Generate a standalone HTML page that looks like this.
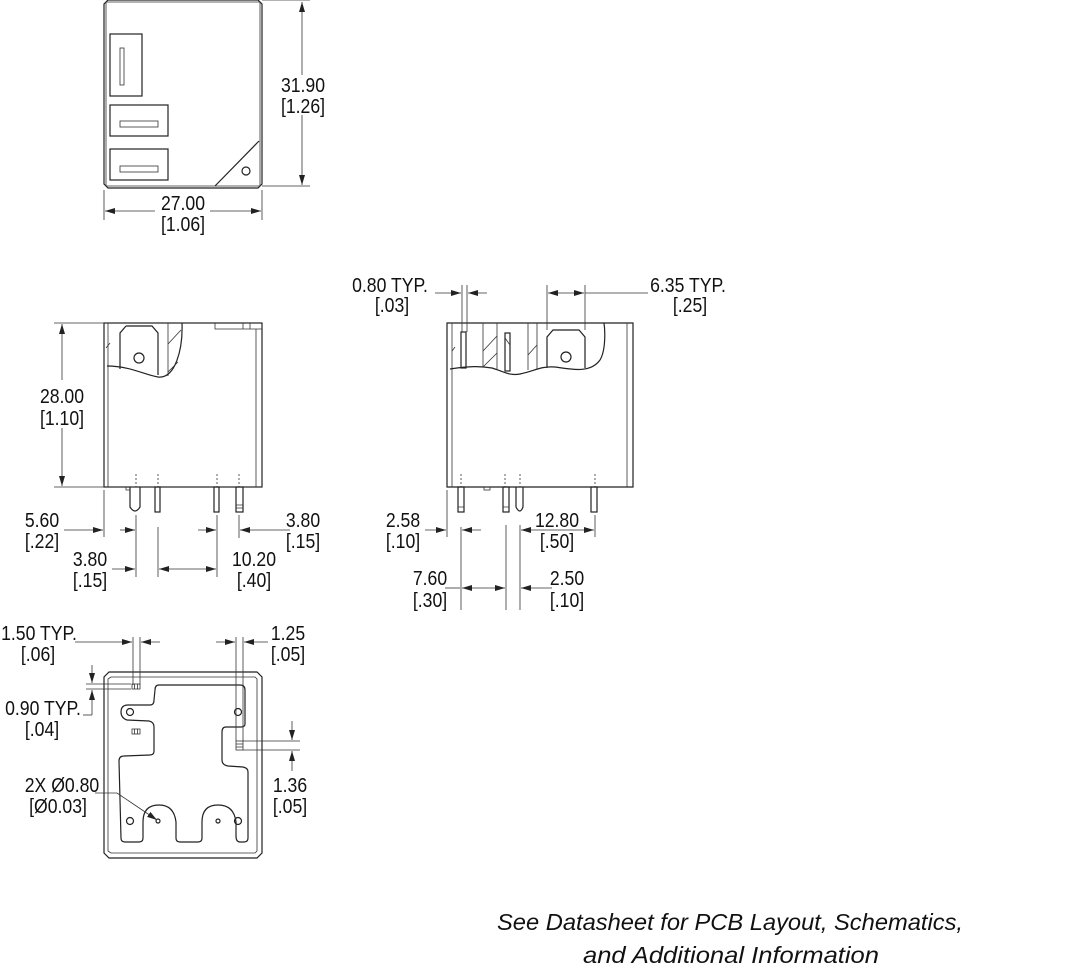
<!DOCTYPE html>
<html><head><meta charset="utf-8"><style>
html,body{margin:0;padding:0;background:#fff;}
svg{display:block;}
text{font-family:"Liberation Sans",sans-serif;font-size:20.5px;fill:#111;text-anchor:middle;}
.l{fill:none;stroke:#222;stroke-width:1.2;}
.t{fill:none;stroke:#333;stroke-width:0.8;}
.d{fill:none;stroke:#333;stroke-width:0.8;stroke-dasharray:2 2;}
</style></head><body>
<svg id="s" width="1080" height="971" viewBox="0 0 1080 971" xmlns="http://www.w3.org/2000/svg">
<defs>
<marker id="a" viewBox="0 0 10 6" refX="10" refY="3" markerWidth="10" markerHeight="6" orient="auto" markerUnits="userSpaceOnUse"><path d="M0,0 L10,3 L0,6 z" fill="#222"/></marker>
</defs>

<!-- TOP VIEW -->
<path class="l" d="M108,0 L258,0 L262,4 L262,184 L258,188 L108,188 L104,184 L104,4 Z"/>
<path class="t" d="M106,2 L260,2 L260,186 L106,186 Z"/>
<rect class="l" x="110" y="34" width="32" height="62"/>
<rect class="t" x="120" y="48" width="4" height="37"/>
<rect class="l" x="110" y="105" width="58" height="31"/>
<rect class="t" x="120" y="121" width="38" height="6"/>
<rect class="l" x="110" y="149" width="58" height="31"/>
<rect class="t" x="120" y="166" width="38" height="6"/>
<line class="l" x1="215" y1="186" x2="259" y2="141"/>
<circle class="l" cx="246" cy="171" r="4"/>
<line class="t" x1="262" y1="0" x2="310" y2="0"/>
<line class="t" x1="262" y1="186" x2="310" y2="186"/>
<line class="t" x1="302" y1="75" x2="302" y2="2" marker-end="url(#a)"/>
<line class="t" x1="302" y1="115" x2="302" y2="185" marker-end="url(#a)"/>
<text x="303" y="92">31.90</text><text x="303" y="113">[1.26]</text>
<line class="t" x1="104" y1="190" x2="104" y2="220"/>
<line class="t" x1="262" y1="190" x2="262" y2="220"/>
<line class="t" x1="155" y1="211" x2="105" y2="211" marker-end="url(#a)"/>
<line class="t" x1="210" y1="211" x2="261" y2="211" marker-end="url(#a)"/>
<text x="183" y="210">27.00</text><text x="183" y="231">[1.06]</text>

<!-- LEFT SIDE VIEW -->
<rect class="l" x="104" y="323" width="158" height="164"/>
<line class="t" x1="108" y1="323" x2="108" y2="487"/>
<line class="t" x1="256" y1="329" x2="256" y2="487"/>
<path class="t" d="M215,323 L215,329 L262,329 M243,323 L243,329 M250,323 L250,329"/>
<path class="l" d="M126,326 L152,326 L158,333 L158,375 M120,369 L120,333 L126,326"/>
<circle class="l" cx="139" cy="358" r="5"/>
<line class="t" x1="168" y1="323" x2="168" y2="376"/>
<path class="l" d="M107,366 C130,366 145,375 158,377 C175,379 183,350 182,323"/>
<path class="t" d="M168,344 L181,330 M168,372 L178,362 M106,348 L110,343"/>
<path class="l" d="M130,487 L130,507 Q135,515 140,507 L140,487"/>
<rect class="l" x="155" y="487" width="5" height="25"/>
<rect class="l" x="214" y="487" width="5" height="25"/>
<rect class="l" x="236" y="487" width="7" height="25"/>
<path class="t" d="M236,505 L243,505 M236,508 L243,508 M126,487 L126,490 L130,490"/>
<line class="d" x1="136" y1="474" x2="136" y2="487"/>
<line class="d" x1="158" y1="474" x2="158" y2="487"/>
<line class="d" x1="217" y1="474" x2="217" y2="487"/>
<line class="d" x1="239" y1="474" x2="239" y2="487"/>
<line class="t" x1="54" y1="323" x2="104" y2="323"/>
<line class="t" x1="54" y1="487" x2="104" y2="487"/>
<line class="t" x1="62" y1="380" x2="62" y2="324" marker-end="url(#a)"/>
<line class="t" x1="62" y1="428" x2="62" y2="486" marker-end="url(#a)"/>
<text x="62" y="403">28.00</text><text x="62" y="425">[1.10]</text>
<line class="t" x1="104" y1="490" x2="104" y2="537"/>
<line class="t" x1="136" y1="515" x2="136" y2="577"/>
<line class="t" x1="158" y1="527" x2="158" y2="577"/>
<line class="t" x1="217" y1="515" x2="217" y2="577"/>
<line class="t" x1="239" y1="515" x2="239" y2="538"/>
<line class="t" x1="64" y1="530" x2="103" y2="530" marker-end="url(#a)"/>
<line class="t" x1="120" y1="530" x2="135" y2="530" marker-end="url(#a)"/>
<line class="t" x1="112" y1="569" x2="135" y2="569" marker-end="url(#a)"/>
<line class="t" x1="188" y1="569" x2="159" y2="569" marker-end="url(#a)"/>
<line class="t" x1="188" y1="569" x2="216" y2="569" marker-end="url(#a)"/>
<line class="t" x1="198" y1="530" x2="216" y2="530" marker-end="url(#a)"/>
<line class="t" x1="290" y1="530" x2="240" y2="530" marker-end="url(#a)"/>
<text x="42" y="527">5.60</text><text x="42" y="548">[.22]</text>
<text x="90" y="566">3.80</text><text x="90" y="587">[.15]</text>
<text x="254" y="566">10.20</text><text x="254" y="587">[.40]</text>
<text x="303" y="527">3.80</text><text x="303" y="548">[.15]</text>

<!-- MIDDLE SIDE VIEW -->
<path class="l" d="M447,323 L633,323 L633,487 L447,487 Z"/>
<line class="t" x1="452" y1="323" x2="452" y2="487"/>
<line class="t" x1="627" y1="323" x2="627" y2="487"/>
<path class="l" d="M450,369 C470,366 480,366 492,368 C505,372 510,376 520,374 C535,371 540,366 555,367 C570,369 590,374 600,360 C606,350 605,330 604,323"/>
<rect class="l" x="461" y="332" width="5" height="36"/>
<rect class="l" x="505" y="333" width="5" height="38"/>
<path class="t" d="M483,323 L483,367 M497,323 L497,370 M528,323 L528,370 M537,323 L537,369"/>
<path class="t" d="M483,351 L497,336 M483,367 L497,353 M528,355 L537,345 M452,351 L455,347 M510,345 L505,338"/>
<path class="l" d="M547,368 L547,337 L553,330 L579,330 L585,337 L585,368"/>
<circle class="l" cx="566" cy="357" r="5"/>
<rect class="l" x="458" y="487" width="6" height="25"/>
<rect class="l" x="503" y="487" width="6" height="25"/>
<path class="l" d="M516,487 L516,507 Q520,515 523,507 L523,487"/>
<rect class="l" x="591" y="487" width="6" height="25"/>
<rect class="t" x="484" y="487" width="6" height="3"/>
<path class="t" d="M458,507 L464,507 M503,507 L509,507"/>
<line class="d" x1="461" y1="474" x2="461" y2="487"/>
<line class="d" x1="505" y1="474" x2="505" y2="487"/>
<line class="d" x1="520" y1="474" x2="520" y2="487"/>
<line class="d" x1="595" y1="474" x2="595" y2="487"/>
<line class="t" x1="462" y1="285" x2="462" y2="332"/>
<line class="t" x1="467" y1="285" x2="467" y2="332"/>
<line class="t" x1="435" y1="293" x2="461" y2="293" marker-end="url(#a)"/>
<line class="t" x1="487" y1="293" x2="468" y2="293" marker-end="url(#a)"/>
<text x="390" y="292">0.80 TYP.</text><text x="392" y="312">[.03]</text>
<line class="t" x1="547" y1="285" x2="547" y2="330"/>
<line class="t" x1="585" y1="285" x2="585" y2="330"/>
<line class="t" x1="566" y1="293" x2="548" y2="293" marker-end="url(#a)"/>
<line class="t" x1="566" y1="293" x2="584" y2="293" marker-end="url(#a)"/>
<line class="t" x1="585" y1="293" x2="648" y2="293"/>
<text x="688" y="292">6.35 TYP.</text><text x="690" y="312">[.25]</text>
<line class="t" x1="447" y1="490" x2="447" y2="537"/>
<line class="t" x1="461" y1="527" x2="461" y2="610"/>
<line class="t" x1="506" y1="525" x2="506" y2="610"/>
<line class="t" x1="520" y1="525" x2="520" y2="610"/>
<line class="t" x1="595" y1="515" x2="595" y2="537"/>
<line class="t" x1="425" y1="530" x2="446" y2="530" marker-end="url(#a)"/>
<line class="t" x1="481" y1="530" x2="462" y2="530" marker-end="url(#a)"/>
<line class="t" x1="557" y1="530" x2="521" y2="530" marker-end="url(#a)"/>
<line class="t" x1="557" y1="530" x2="594" y2="530" marker-end="url(#a)"/>
<line class="t" x1="445" y1="588" x2="460" y2="588"/>
<line class="t" x1="483" y1="588" x2="462" y2="588" marker-end="url(#a)"/>
<line class="t" x1="483" y1="588" x2="505" y2="588" marker-end="url(#a)"/>
<line class="t" x1="552" y1="588" x2="521" y2="588" marker-end="url(#a)"/>
<text x="403" y="527">2.58</text><text x="403" y="548">[.10]</text>
<text x="557" y="527">12.80</text><text x="557" y="548">[.50]</text>
<text x="430" y="585">7.60</text><text x="430" y="607">[.30]</text>
<text x="567" y="585">2.50</text><text x="567" y="607">[.10]</text>

<!-- BOTTOM VIEW -->
<path class="l" d="M109,672 L257,672 L262,677 L262,853 L257,858 L109,858 L104,853 L104,677 Z"/>
<path class="t" d="M111,677 L255,677 L257,679 L257,851 L255,853 L111,853 L108,851 L108,679 Z"/>
<path class="l" d="M159,685 L240,685 Q245,685 245,690 L245,724 Q245,727 241,727 L226,727 Q222,727 222,732 L222,760 Q222,765 228,766 L243,767 Q248,768 248,772 L248,838 Q248,842 244,842 L240,842 Q236,842 236,836 L236,822 Q234,805 218,805 Q202,805 202,822 L202,838 Q202,842 198,842 L180,842 Q176,842 176,838 L176,822 Q174,805 159,805 Q143,805 143,822 L143,838 Q143,842 139,842 L125,842 Q121,842 121,838 L119,761 Q119,756 124,756 L150,755 Q154,755 154,751 L154,727 Q154,722 149,721 L127,720 Q121,718 121,712 Q121,705 128,705 L150,705 Q154,705 154,700 L155,690 Q155,685 159,685 Z"/>
<circle class="l" cx="130" cy="712" r="3.5"/>
<circle class="l" cx="238" cy="712" r="3.5"/>
<circle class="l" cx="130" cy="821" r="3.5"/>
<circle class="l" cx="238" cy="821" r="3.5"/>
<circle class="l" cx="158" cy="821" r="2"/>
<circle class="l" cx="218" cy="821" r="2"/>
<rect class="t" x="132" y="684" width="8" height="5"/>
<rect class="t" x="132" y="729" width="8" height="5"/>
<rect class="t" x="236" y="741" width="7" height="9"/>
<path class="t" d="M134.5,684 L134.5,689 M137.5,684 L137.5,689 M134.5,729 L134.5,734 M137.5,729 L137.5,734 M236,744 L243,744 M236,747 L243,747"/>
<line class="t" x1="133" y1="637" x2="133" y2="685"/>
<line class="t" x1="140" y1="637" x2="140" y2="685"/>
<line class="t" x1="75" y1="642" x2="132" y2="642" marker-end="url(#a)"/>
<line class="t" x1="160" y1="642" x2="141" y2="642" marker-end="url(#a)"/>
<text x="39" y="640">1.50 TYP.</text><text x="38" y="661">[.06]</text>
<line class="t" x1="236" y1="637" x2="236" y2="741"/>
<line class="t" x1="243" y1="637" x2="243" y2="741"/>
<line class="t" x1="216" y1="642" x2="235" y2="642" marker-end="url(#a)"/>
<line class="t" x1="268" y1="642" x2="244" y2="642" marker-end="url(#a)"/>
<text x="288" y="640">1.25</text><text x="288" y="661">[.05]</text>
<line class="t" x1="86" y1="684" x2="131" y2="684"/>
<line class="t" x1="86" y1="689" x2="131" y2="689"/>
<line class="t" x1="92" y1="665" x2="92" y2="683" marker-end="url(#a)"/>
<line class="t" x1="92" y1="715" x2="92" y2="690" marker-end="url(#a)"/>
<line class="t" x1="92" y1="715" x2="83" y2="715"/>
<text x="43" y="715">0.90 TYP.</text><text x="42" y="736">[.04]</text>
<line class="t" x1="243" y1="741" x2="300" y2="741"/>
<line class="t" x1="243" y1="750" x2="300" y2="750"/>
<line class="t" x1="292" y1="721" x2="292" y2="740" marker-end="url(#a)"/>
<line class="t" x1="292" y1="771" x2="292" y2="751" marker-end="url(#a)"/>
<text x="290" y="792">1.36</text><text x="290" y="813">[.05]</text>
<line class="t" x1="95" y1="793" x2="117" y2="793"/>
<line class="t" x1="117" y1="793" x2="157" y2="820" marker-end="url(#a)"/>
<text x="62" y="792">2X Ø0.80</text><text x="58" y="813">[Ø0.03]</text>

<text class="f" x="730" y="930" style="font-size:23px;font-style:italic" textLength="466" lengthAdjust="spacingAndGlyphs">See Datasheet for PCB Layout, Schematics,</text>
<text class="f" x="731" y="963" style="font-size:23px;font-style:italic" textLength="296" lengthAdjust="spacingAndGlyphs">and Additional Information</text>
</svg>
<script>
document.querySelectorAll('#s text:not(.f)').forEach(function(t){
  var w=t.getComputedTextLength();
  t.setAttribute('textLength',(w*0.86).toFixed(1));
  t.setAttribute('lengthAdjust','spacingAndGlyphs');
});
</script>
</body></html>
